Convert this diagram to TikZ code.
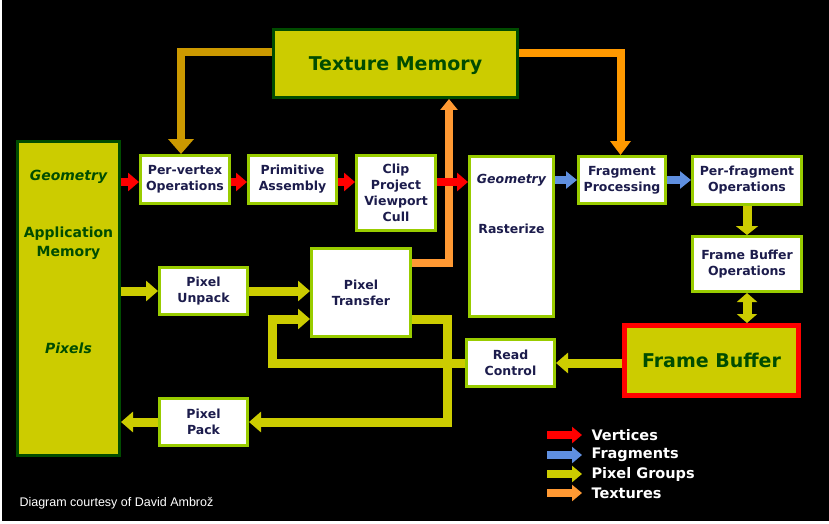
\documentclass[tikz,border=0pt]{standalone}
\usepackage{fontspec}
\setmainfont{DejaVu Sans}
\newfontfamily\creditfont{Liberation Sans}
\usetikzlibrary{arrows.meta}
\definecolor{pixyellow}{HTML}{CCCC00}
\definecolor{memgreen}{HTML}{004C00}
\definecolor{stagegreen}{HTML}{99CC00}
\definecolor{stagetext}{HTML}{1C1C4C}
\definecolor{vertred}{HTML}{FF0000}
\definecolor{fragblue}{HTML}{5F8FE0}
\definecolor{texgold}{HTML}{CC9900}
\definecolor{texorange}{HTML}{FF9900}
\definecolor{texlight}{HTML}{FF9933}
\tikzset{
  stage/.style={draw=stagegreen, line width=3pt, fill=white, text=stagetext, inner sep=0pt,
    align=center, font=\bfseries\fontsize{12.5}{16}\selectfont},
  memory/.style={draw=memgreen, line width=3pt, fill=pixyellow, text=memgreen, inner sep=0pt,
    text depth=0pt, align=center, font=\bfseries\fontsize{19}{23}\selectfont},
  vtx/.style={draw=vertred, line width=8pt, -{Triangle[length=11pt,width=18pt]}},
  frg/.style={draw=fragblue, line width=8pt, -{Triangle[length=11pt,width=17pt]}},
  pix/.style={draw=pixyellow, line width=9pt, -{Triangle[length=12pt,width=20pt]}},
  legend/.style={anchor=west, text=white, font=\bfseries\fontsize{14.5}{17}\selectfont}
}

\begin{document}
\begin{tikzpicture}[x=1pt, y=-1pt]
    \useasboundingbox (0,0) rectangle (829,524);
    \fill[white] (0,0) rectangle (829,524);
    \fill[black] (2,0) rectangle (829,521);

    \node[memory, minimum width=244pt, minimum height=68pt] (texmem) at (395.5,63.5) {Texture Memory};
    \node[memory, minimum width=102pt, minimum height=314pt] (appmem) at (68.5,298.5) {};
    \node[memory, draw=vertred, line width=5pt, minimum width=174pt, minimum height=70pt] (fb) at (711.5,360.5) {Frame Buffer};
    \node[text=memgreen, font=\bfseries\itshape\fontsize{14}{18}\selectfont] (appgeo) at (68.5,177) {Geometry};
    \node[text=memgreen, align=center, font=\bfseries\fontsize{14}{19}\selectfont] (appname) at (68.5,243.5) {Application\\Memory};
    \node[text=memgreen, font=\bfseries\itshape\fontsize{14}{18}\selectfont] (apppix) at (68.5,348) {Pixels};

    \node[stage, minimum width=89pt, minimum height=48pt] (pervertex) at (185,179.5) {Per-vertex\\Operations};
    \node[stage, minimum width=88pt, minimum height=48pt] (primitive) at (292.5,179.5) {Primitive\\Assembly};
    \node[stage, minimum width=79pt, minimum height=75pt] (clip) at (396,193) {Clip\\Project\\Viewport\\Cull};
    \node[stage, minimum width=84pt, minimum height=160pt] (raster) at (511.5,236.5) {};
    \node[text=stagetext, font=\bfseries\itshape\fontsize{12.5}{16}\selectfont] (rastgeo) at (511.5,180) {Geometry};
    \node[text=stagetext, font=\bfseries\fontsize{12.5}{16}\selectfont] (rastname) at (511.5,229) {Rasterize};
    \node[stage, minimum width=87pt, minimum height=47pt] (fragproc) at (622,180) {Fragment\\Processing};
    \node[stage, minimum width=109pt, minimum height=48pt] (perfrag) at (747,180.5) {Per-fragment\\Operations};
    \node[stage, minimum width=109pt, minimum height=55pt] (fbops) at (747,264) {Frame Buffer\\Operations};
    \node[stage, minimum width=88pt, minimum height=47pt] (readctl) at (510.5,363) {Read\\Control};
    \node[stage, minimum width=88pt, minimum height=47pt] (unpack) at (203.5,291) {Pixel\\Unpack};
    \node[stage, minimum width=99pt, minimum height=88pt] (transfer) at (361,292.5) {Pixel\\Transfer};
    \node[stage, minimum width=88pt, minimum height=47pt] (pack) at (203.5,422) {Pixel\\Pack};

    \coordinate (vrow) at (0,182);
    \coordinate (tvl) at (181,52.5);
    \coordinate (tvr) at (620.5,53);
    \coordinate (tup) at (449,262.5);
    \coordinate (fbk) at (272.5,319);
    \coordinate (drop) at (447,319);

    \draw[draw=texgold, line width=8pt, -{Triangle[length=15pt,width=25pt]}] (texmem.west |- tvl) -- (tvl) -- (tvl |- pervertex.north);
    \draw[draw=texorange, line width=8pt, -{Triangle[length=14pt,width=20pt]}] (texmem.east |- tvr) -- (tvr) -- (tvr |- fragproc.north);
    \draw[draw=texlight, line width=8pt, -{Triangle[length=11pt,width=17pt]}] (transfer.east |- tup) -- (tup) -- (tup |- texmem.south);

    \draw[vtx] (appmem.east |- vrow) -- (pervertex.west |- vrow);
    \draw[vtx] (pervertex.east |- vrow) -- (primitive.west |- vrow);
    \draw[vtx] (primitive.east |- vrow) -- (clip.west |- vrow);
    \draw[vtx] (clip.east |- vrow) -- (raster.west |- vrow);
    \draw[frg] (raster.east |- fragproc) -- (fragproc.west);
    \draw[frg] (fragproc.east) -- (perfrag.west |- fragproc);

    \draw[pix, -{Triangle[length=9pt,width=22pt]}] (perfrag.south) -- (fbops.north);
    \draw[pix, {Triangle[length=9pt,width=20pt]}-{Triangle[length=9pt,width=20pt]}] (fbops.south) -- (fbops.south |- fb.north);
    \draw[pix] (fb.west |- readctl) -- (readctl.east);
    \draw[pix] (appmem.east |- unpack) -- (unpack.west);
    \draw[pix] (unpack.east) -- (transfer.west |- unpack);
    \draw[pix] (readctl.west) -| (fbk) -- (transfer.west |- fbk);
    \draw[pix] (transfer.east |- drop) -- (drop) |- (pack.east);
    \draw[pix] (pack.west) -- (appmem.east |- pack);

    \draw[vtx, line width=8pt, -{Triangle[length=10pt,width=16pt]}] (547,435) -- (582,435) coordinate (lv);
    \draw[frg, -{Triangle[length=10pt,width=16pt]}] (547,455) -- (582,455) coordinate (lf);
    \draw[pix, line width=8pt, -{Triangle[length=10pt,width=16pt]}] (547,474) -- (582,474) coordinate (lp);
    \draw[draw=texlight, line width=8pt, -{Triangle[length=10pt,width=16pt]}] (547,493) -- (582,493) coordinate (lt);
    \node[legend] (vertices) at (588,435) {Vertices};
    \node[legend] (fragments) at (588,455) {Fragments};
    \node[legend] (pixgroups) at (588,474) {Pixel Groups};
    \node[legend] (textures) at (588,493) {Textures};

    \node[anchor=west, text=white, font=\creditfont\fontsize{12.5}{15}\selectfont] (credit) at (16,503) {Diagram courtesy of David Ambrož};
\end{tikzpicture}
\end{document}
